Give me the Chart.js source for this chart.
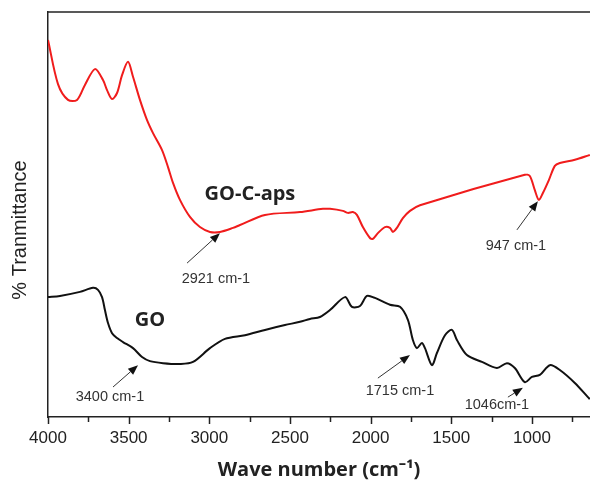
<!DOCTYPE html>
<html>
<head>
<meta charset="utf-8">
<script src="https://cdn.jsdelivr.net/npm/chart.js@4.4.1/dist/chart.umd.min.js"></script>
<style>
  html, body { margin: 0; padding: 0; background: #fff; }
  #wrap { width: 590px; height: 485px; }
</style>
</head>
<body>
<div id="wrap"><canvas id="chart-1" width="590" height="485"></canvas></div>
<script>
const ctx = document.getElementById('chart-1').getContext('2d');

// GO-C-aps spectrum (red)
const redWave = [4000, 3938, 3876, 3820, 3771, 3709, 3659, 3634, 3603, 3572, 3541, 3504, 3473,
    3430, 3386, 3349, 3293, 3256, 3225, 3182, 3120, 3058, 2996, 2934, 2853, 2810, 2655, 2438,
    2296, 2252, 2172, 2141, 2110, 2085, 2048, 2004, 1986, 1955, 1911, 1880, 1862, 1837, 1800,
    1756, 1694, 1044, 1013, 982, 957, 932, 895, 858, 827, 734, 641];
const redValue = [93.1, 82.2, 78.3, 78.3, 82.0, 85.9, 83.2, 80.7, 78.5, 80.0, 84.4, 87.7, 84.0,
    78.3, 73.3, 70.1, 65.9, 61.7, 57.8, 53.6, 49.4, 46.9, 45.7, 45.7, 46.7, 47.4, 49.9, 50.6,
    51.4, 51.4, 50.9, 50.4, 50.6, 49.9, 46.9, 44.2, 44.0, 45.4, 46.9, 46.7, 45.7, 46.7, 49.1,
    50.9, 52.3, 59.8, 59.5, 56.0, 53.6, 55.3, 58.5, 62.0, 62.7, 63.5, 64.7];

// GO spectrum (black)
const blackWave = [4000, 3926, 3802, 3721, 3690, 3665, 3647, 3628, 3603, 3572, 3535, 3473, 3417,
    3368, 3287, 3182, 3101, 2996, 2903, 2779, 2655, 2531, 2438, 2376, 2314, 2252, 2159, 2116,
    2066, 2023, 1973, 1880, 1818, 1769, 1738, 1713, 1682, 1663, 1620, 1589, 1539, 1496, 1465,
    1403, 1310, 1217, 1155, 1106, 1044, 1000, 951, 889, 827, 734, 653, 641];
const blackValue = [29.6, 29.9, 30.9, 31.9, 31.4, 29.6, 26.4, 23.2, 20.7, 19.5, 18.5, 17.0, 14.8,
    13.8, 13.3, 13.1, 13.6, 17.0, 19.3, 20.2, 21.5, 22.7, 23.5, 24.2, 24.7, 26.4, 29.6, 27.2,
    27.4, 29.9, 29.4, 27.7, 27.2, 24.0, 19.0, 17.0, 18.3, 17.0, 12.8, 15.8, 20.2, 21.5, 19.0,
    15.3, 13.6, 12.1, 13.3, 12.1, 8.6, 9.9, 10.4, 12.8, 11.6, 8.4, 4.9, 4.4];

const tickValues = [4000, 3750, 3500, 3250, 3000, 2750, 2500, 2250, 2000, 1750, 1500, 1250, 1000, 750];

// peak labels: text and arrow, all in data units
const notes = [
    { text: '2921 cm-1', at: [2959, 34.1], from: [3138, 38.0], to: [2934, 45.4] },
    { text: '947 cm-1', at: [1099, 42.2], from: [1093, 46.2], to: [963, 53.3] },
    { text: '3400 cm-1', at: [3616, 4.9], from: [3597, 7.4], to: [3442, 12.8] },
    { text: '1715 cm-1', at: [1818, 6.4], from: [1955, 9.6], to: [1756, 15.3] },
    { text: '1046cm-1', at: [1217, 3.0], from: [1149, 4.9], to: [1056, 7.2] },
];
const names = [
    { text: 'GO-C-aps', at: [2748, 55.1] },
    { text: 'GO', at: [3368, 24.0] },
];
const yTitle = '% Tranmittance';

function toPoints(xs, ys) {
    return xs.map((x, i) => ({ x: x, y: ys[i] }));
}

const extras = {
    id: 'extras',
    afterDraw(chart) {
        const c = chart.ctx;
        const xs = chart.scales.x;
        const ys = chart.scales.y;
        const area = chart.chartArea;
        c.save();

        // top frame line
        c.strokeStyle = '#222';
        c.lineWidth = 1.5;
        c.beginPath();
        c.moveTo(area.left, area.top);
        c.lineTo(area.right, area.top);
        c.stroke();

        // tick marks under the x axis
        tickValues.forEach(v => {
            const px = Math.round(xs.getPixelForValue(v)) + 0.5;
            const len = v % 500 === 0 ? 7 : 5;
            c.beginPath();
            c.moveTo(px, area.bottom);
            c.lineTo(px, area.bottom + len);
            c.stroke();
        });

        // y title, sits a bit lower than the axis middle
        c.save();
        c.translate(20, 230);
        c.rotate(-Math.PI / 2);
        c.fillStyle = '#222';
        c.font = '20px "Liberation Sans", Arial, sans-serif';
        c.textAlign = 'center';
        c.textBaseline = 'middle';
        c.fillText(yTitle, 0, 0);
        c.restore();

        // peak arrows and labels
        c.strokeStyle = '#333';
        c.lineWidth = 1;
        c.font = '14.5px "Liberation Sans", Arial, sans-serif';
        c.textAlign = 'center';
        c.textBaseline = 'middle';
        notes.forEach(n => {
            const x1 = xs.getPixelForValue(n.from[0]), y1 = ys.getPixelForValue(n.from[1]);
            const x2 = xs.getPixelForValue(n.to[0]), y2 = ys.getPixelForValue(n.to[1]);
            const ang = Math.atan2(y2 - y1, x2 - x1);
            const head = 10, half = 4;
            const bx = x2 - head * Math.cos(ang), by = y2 - head * Math.sin(ang);
            c.beginPath();
            c.moveTo(x1, y1);
            c.lineTo(bx, by);
            c.stroke();
            c.beginPath();
            c.moveTo(x2, y2);
            c.lineTo(bx + half * Math.sin(ang), by - half * Math.cos(ang));
            c.lineTo(bx - half * Math.sin(ang), by + half * Math.cos(ang));
            c.closePath();
            c.fillStyle = '#111';
            c.fill();
            c.fillStyle = '#333';
            c.fillText(n.text, xs.getPixelForValue(n.at[0]), ys.getPixelForValue(n.at[1]));
        });

        c.fillStyle = '#222';
        c.font = 'bold 20px "Open Sans", sans-serif';
        names.forEach(n => {
            c.fillText(n.text, xs.getPixelForValue(n.at[0]), ys.getPixelForValue(n.at[1]));
        });
        c.restore();
    }
};

var spectrumChart = new Chart(ctx, {
    type: 'line',
    data: {
        datasets: [{
            label: 'GO-C-aps',
            data: toPoints(redWave, redValue),
            borderColor: '#f01c1c',
            borderWidth: 2,
            pointRadius: 0,
            tension: 0.3,
            fill: false
        }, {
            label: 'GO',
            data: toPoints(blackWave, blackValue),
            borderColor: '#111',
            borderWidth: 2,
            pointRadius: 0,
            tension: 0.3,
            fill: false
        }]
    },
    options: {
        responsive: false,
        animation: false,
        layout: { padding: { top: 12, left: 0, right: 0, bottom: 0 } },
        plugins: {
            legend: { display: false },
            tooltip: { enabled: false }
        },
        scales: {
            x: {
                type: 'linear',
                reverse: true,
                min: 640,
                max: 4000,
                afterBuildTicks: scale => { scale.ticks = tickValues.map(v => ({ value: v })); },
                afterFit: scale => { scale.height = 68; },
                grid: { display: false, drawTicks: true, tickLength: 7 },
                border: { display: true, color: '#222', width: 1.5 },
                ticks: {
                    autoSkip: false,
                    maxRotation: 0,
                    padding: 4,
                    color: '#222',
                    font: { family: '"Liberation Sans", Arial, sans-serif', size: 17 },
                    callback: v => (v % 500 === 0 ? String(v) : '')
                },
                title: {
                    display: true,
                    text: 'Wave number (cm\u207B\u00B9)',
                    color: '#222',
                    font: { family: '"Open Sans", sans-serif', size: 20, weight: 'bold' },
                    padding: { top: 0, bottom: 3 }
                }
            },
            y: {
                min: 0,
                max: 100,
                afterFit: scale => { scale.width = 48; },
                grid: { display: false },
                border: { display: true, color: '#222', width: 1.5 },
                ticks: { display: false },
                title: { display: false }
            }
        }
    },
    plugins: [extras]
});
</script>
</body>
</html>
